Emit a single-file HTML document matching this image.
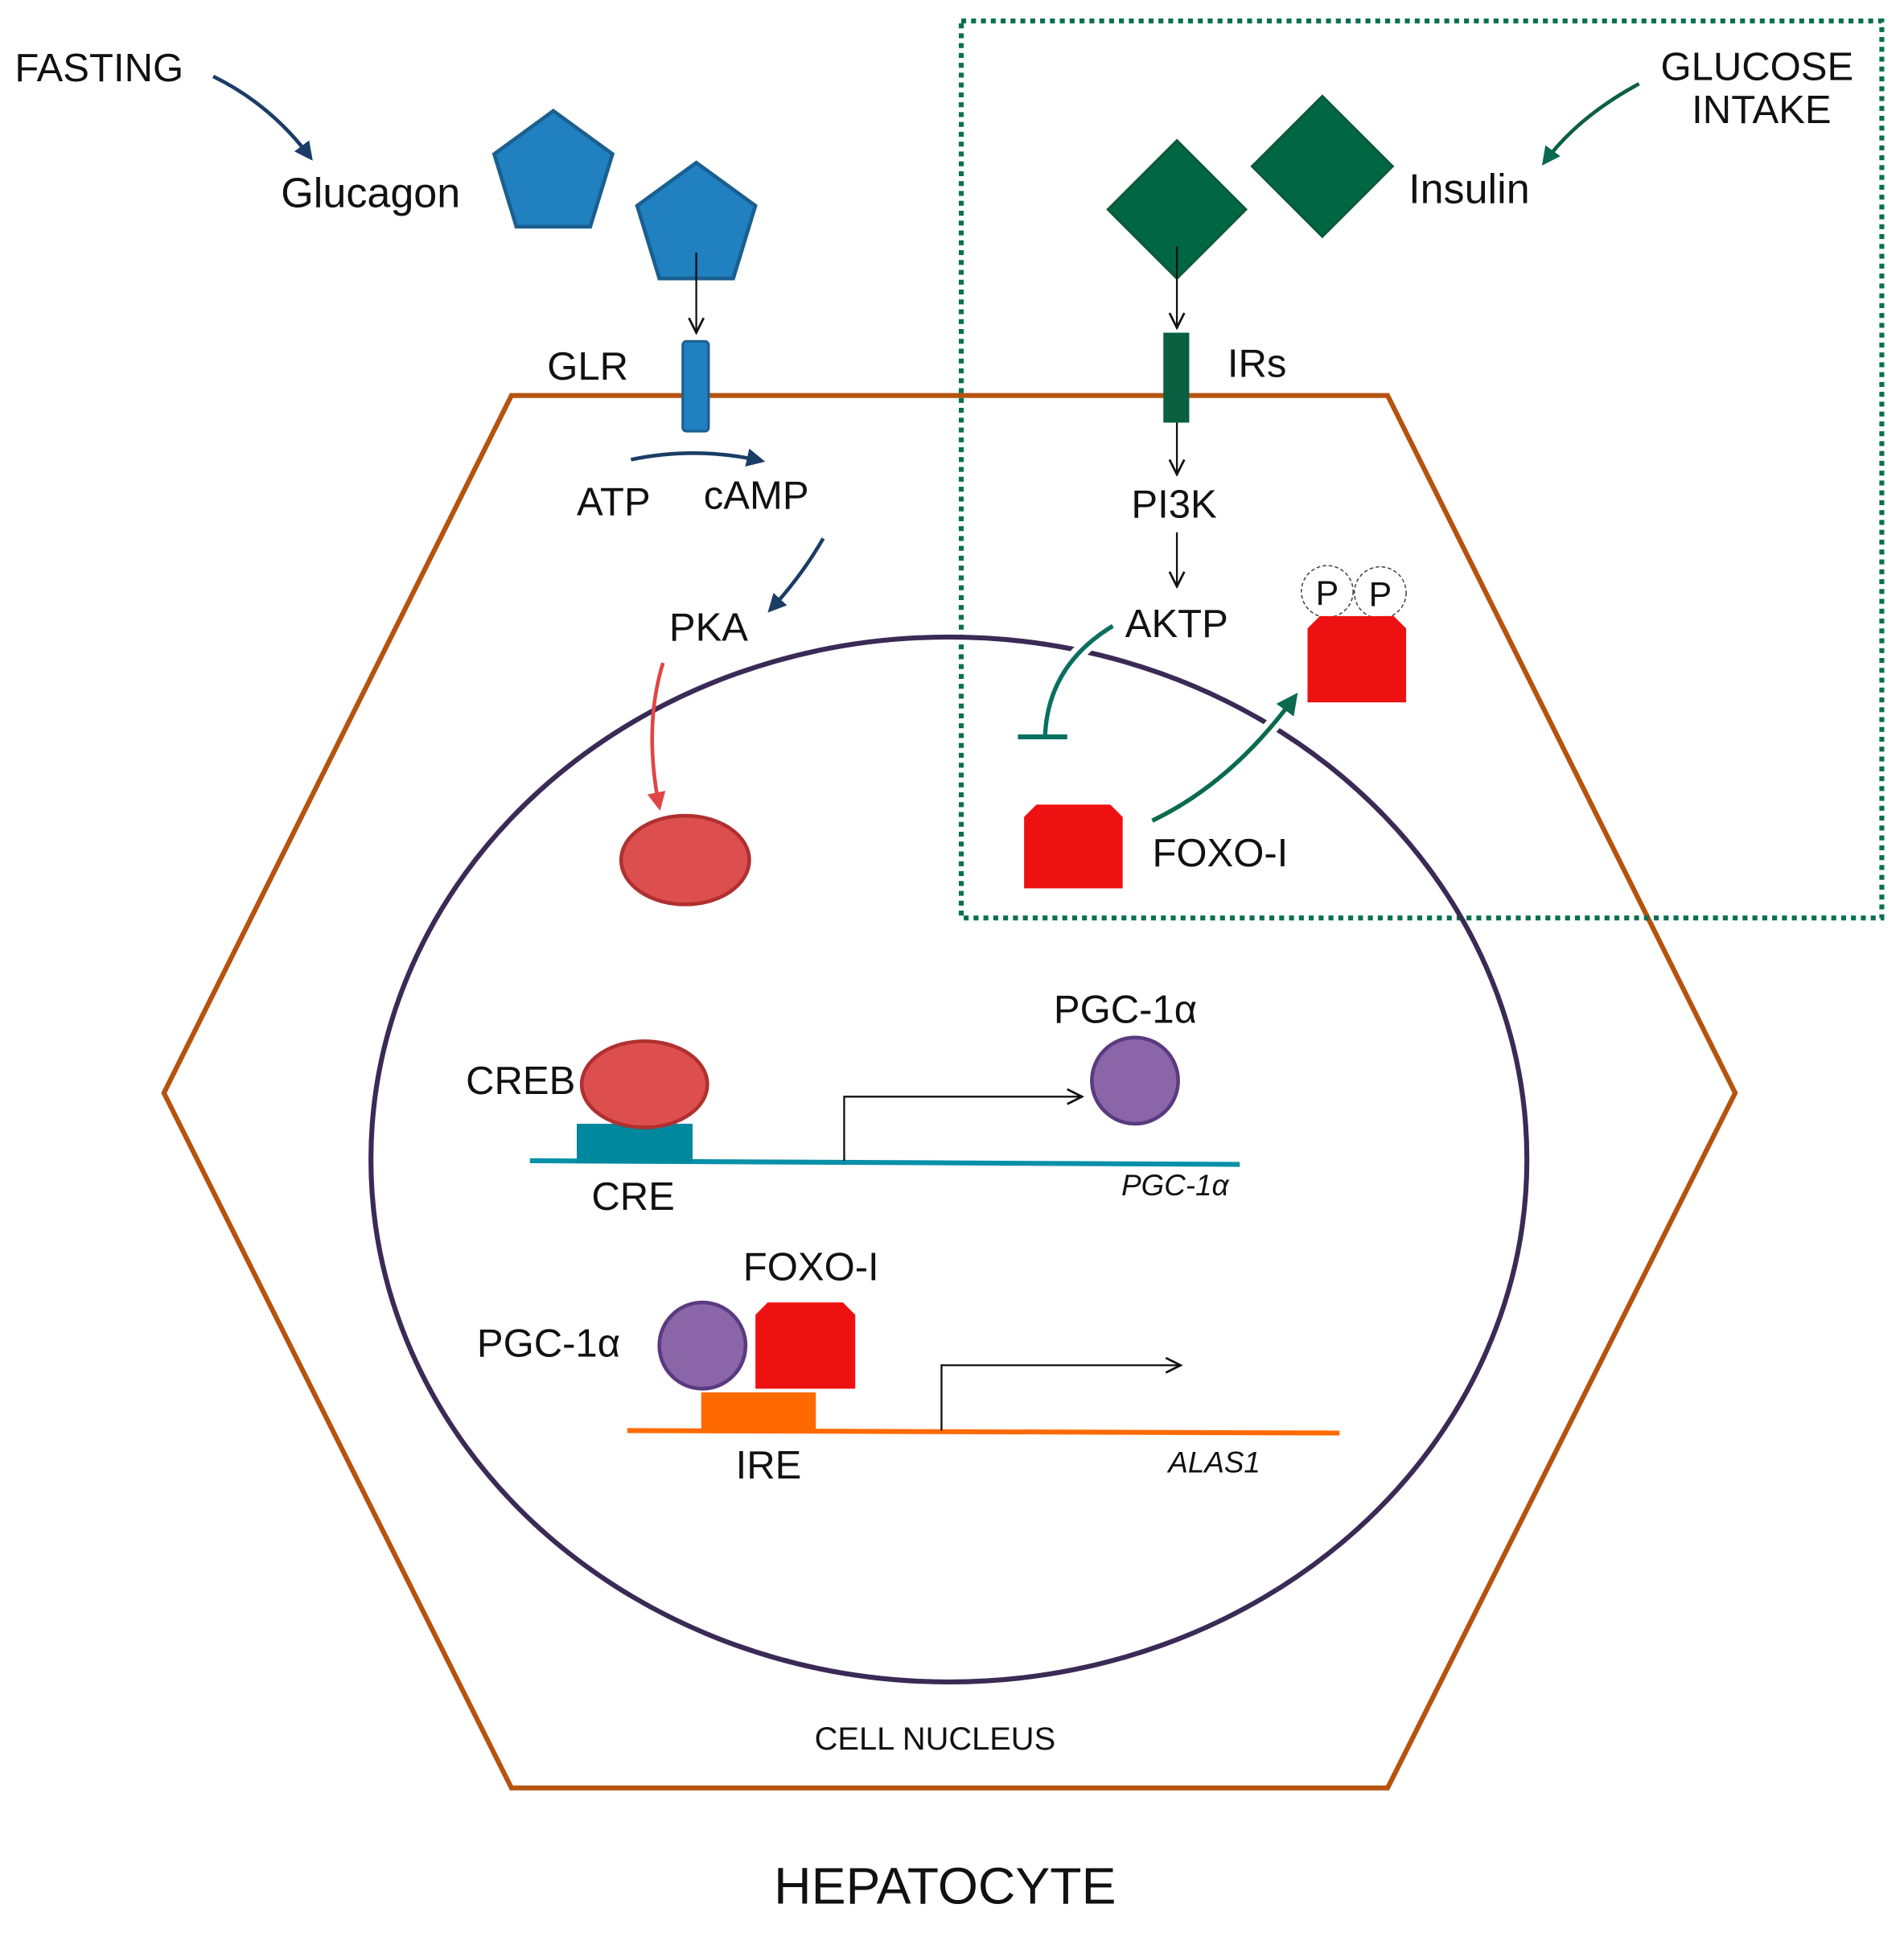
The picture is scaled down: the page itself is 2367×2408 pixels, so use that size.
<!DOCTYPE html>
<html><head><meta charset="utf-8"><style>
html,body{margin:0;padding:0;background:#fff}
svg{display:block}
text{font-family:"Liberation Sans",sans-serif;fill:#111}
</style></head><body>
<svg width="2367" height="2408" viewBox="0 0 1545 1572" preserveAspectRatio="none" xmlns="http://www.w3.org/2000/svg">
<defs>
<marker id="nv" viewBox="0 0 10 10" refX="8" refY="5" markerWidth="5" markerHeight="5" orient="auto"><path d="M0,0 L10,5 L0,10 z" fill="#1a3d66"/></marker>
<marker id="gr" viewBox="0 0 10 10" refX="8" refY="5" markerWidth="5" markerHeight="5" orient="auto"><path d="M0,0 L10,5 L0,10 z" fill="#0a6a50"/></marker>
<marker id="rd" viewBox="0 0 10 10" refX="8" refY="5" markerWidth="5" markerHeight="5" orient="auto"><path d="M0,0 L10,5 L0,10 z" fill="#e04545"/></marker>
<marker id="op" viewBox="0 0 10 10" refX="9" refY="5" markerWidth="10" markerHeight="10" orient="auto"><path d="M1,1 L9,5 L1,9" fill="none" stroke="#111" stroke-width="1.2"/></marker>
</defs>
<!-- hexagon -->
<polygon points="415,321 1126,321 1408,887 1126,1451 415,1451 133,887" fill="none" stroke="#b5530f" stroke-width="4"/>
<!-- dotted box -->
<rect x="780" y="17" width="747" height="728" fill="none" stroke="#0a7050" stroke-width="4" stroke-dasharray="4,4"/>
<!-- nucleus -->
<ellipse cx="770" cy="941" rx="469" ry="424" fill="none" stroke="#3a2a55" stroke-width="4"/>
<!-- text top -->
<text x="12" y="66" font-size="32">FASTING</text>
<path d="M173,62 Q220,85 252,128" fill="none" stroke="#1a3d66" stroke-width="3" marker-end="url(#nv)"/>
<text x="228" y="168" font-size="34">Glucagon</text>
<polygon points="449,90 497,125 479,184 419,184 401,125" fill="#2080c0" stroke="#1a5f90" stroke-width="3"/>
<polygon points="565,132 613,167 595,226 535,226 517,167" fill="#2080c0" stroke="#1a5f90" stroke-width="3"/>
<line x1="565" y1="205" x2="565" y2="270" stroke="#111" stroke-width="1.5" marker-end="url(#op)"/>
<rect x="554" y="277" width="21" height="73" rx="3" fill="#2080c0" stroke="#1a5f90" stroke-width="2"/>
<text x="444" y="308" font-size="32">GLR</text>
<text x="1504" y="65" font-size="32" text-anchor="end">GLUCOSE</text>
<text x="1486" y="100" font-size="32" text-anchor="end">INTAKE</text>
<path d="M1330,68 Q1280,95 1253,132" fill="none" stroke="#0a6040" stroke-width="3" marker-end="url(#gr)"/>
<polygon points="955,114 1011,170 955,226 899,170" fill="#006644" stroke="#0a5a3a" stroke-width="2"/>
<polygon points="1073,78 1130,135 1073,192 1016,135" fill="#006644" stroke="#0a5a3a" stroke-width="2"/>
<text x="1143" y="165" font-size="34">Insulin</text>
<line x1="955" y1="200" x2="955" y2="266" stroke="#111" stroke-width="1.5" marker-end="url(#op)"/>
<rect x="944" y="270" width="21" height="73" fill="#0a6040"/>
<text x="996" y="306" font-size="32">IRs</text>
<line x1="955" y1="343" x2="955" y2="385" stroke="#111" stroke-width="1.5" marker-end="url(#op)"/>
<text x="918" y="420" font-size="32">PI3K</text>
<line x1="955" y1="432" x2="955" y2="476" stroke="#111" stroke-width="1.5" marker-end="url(#op)"/>
<text x="913" y="517" font-size="32">AKTP</text>
<path d="M903,508 Q850,540 848,598" fill="none" stroke="#fff" stroke-width="12"/>
<path d="M903,508 Q850,540 848,598" fill="none" stroke="#0a7060" stroke-width="3.5"/>
<line x1="826" y1="598" x2="866" y2="598" stroke="#0a7060" stroke-width="4"/>
<circle cx="1077" cy="480" r="21" fill="#fff" stroke="#444" stroke-width="1" stroke-dasharray="3,2"/>
<circle cx="1120" cy="481" r="21" fill="#fff" stroke="#444" stroke-width="1" stroke-dasharray="3,2"/>
<text x="1077" y="491" font-size="28" text-anchor="middle">P</text>
<text x="1120" y="492" font-size="28" text-anchor="middle">P</text>
<polygon points="1071,500 1131,500 1141,510 1141,570 1061,570 1061,510" fill="#ee1111"/>
<polygon points="841,653 901,653 911,663 911,721 831,721 831,663" fill="#ee1111"/>
<text x="935" y="703" font-size="32">FOXO-I</text>
<path d="M935,666 Q1000,635 1051,565" fill="none" stroke="#fff" stroke-width="12"/>
<path d="M935,666 Q1000,635 1051,565" fill="none" stroke="#0a6a50" stroke-width="3.5" marker-end="url(#gr)"/>
<text x="468" y="418" font-size="32">ATP</text>
<text x="571" y="413" font-size="32">cAMP</text>
<path d="M512,373 Q565,362 618,374" fill="none" stroke="#1a3d66" stroke-width="3" marker-end="url(#nv)"/>
<path d="M668,437 Q650,468 625,495" fill="none" stroke="#1a3d66" stroke-width="3" marker-end="url(#nv)"/>
<text x="543" y="520" font-size="32">PKA</text>
<path d="M538,538 Q522,590 535,655" fill="none" stroke="#e04545" stroke-width="3" marker-end="url(#rd)"/>
<ellipse cx="556" cy="698" rx="52" ry="36" fill="#dd4f4f" stroke="#b03030" stroke-width="3"/>
<!-- CRE gene -->
<line x1="430" y1="942" x2="1006" y2="945" stroke="#0890a8" stroke-width="4"/>
<rect x="468" y="912" width="94" height="32" fill="#00889e"/>
<ellipse cx="523" cy="880" rx="51" ry="35" fill="#dd4f4f" stroke="#b03030" stroke-width="3"/>
<text x="378" y="888" font-size="32">CREB</text>
<polyline points="685,942 685,890 878,890" fill="none" stroke="#111" stroke-width="1.5" marker-end="url(#op)"/>
<circle cx="921" cy="877" r="35" fill="#8a66a8" stroke="#5a3a80" stroke-width="3"/>
<text x="855" y="830" font-size="32">PGC-1α</text>
<text x="480" y="982" font-size="32">CRE</text>
<text x="910" y="970" font-size="24" font-style="italic">PGC-1α</text>
<!-- IRE gene -->
<line x1="509" y1="1161" x2="1087" y2="1163" stroke="#ff6a00" stroke-width="4"/>
<rect x="569" y="1130" width="93" height="31" fill="#ff6a00"/>
<circle cx="570" cy="1092" r="35" fill="#8a66a8" stroke="#5a3a80" stroke-width="3"/>
<polygon points="623,1057 684,1057 694,1067 694,1127 613,1127 613,1067" fill="#ee1111"/>
<text x="603" y="1039" font-size="32">FOXO-I</text>
<text x="387" y="1101" font-size="32">PGC-1α</text>
<polyline points="764,1161 764,1108 958,1108" fill="none" stroke="#111" stroke-width="1.5" marker-end="url(#op)"/>
<text x="597" y="1200" font-size="32">IRE</text>
<text x="948" y="1195" font-size="24" font-style="italic">ALAS1</text>
<text x="661" y="1420" font-size="26">CELL NUCLEUS</text>
<text x="628" y="1545" font-size="42">HEPATOCYTE</text>
</svg>
</body></html>
